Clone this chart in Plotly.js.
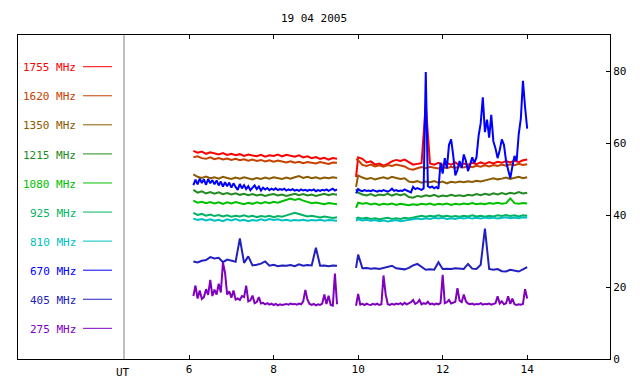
<!DOCTYPE html>
<html>
<head>
<meta charset="utf-8">
<script src="https://cdn.plot.ly/plotly-3.0.1.min.js"></script>
<style>html,body{margin:0;padding:0;background:#fff;}#chart{width:640px;height:384px;}</style>
</head>
<body>
<div id="chart"></div>
<script>
// ---- time axis (UT hours); 9.75 is the data gap ----
const hoursCoarse = [
  6.1,6.2,6.3,6.4,6.5,6.6,6.7,6.8,6.9,7.0,
  7.1,7.2,7.3,7.4,7.5,7.6,7.7,7.8,7.9,8.0,
  8.1,8.2,8.3,8.4,8.5,8.6,8.7,8.8,8.9,9.0,
  9.1,9.2,9.3,9.4,9.5,
  9.75,
  9.95,10.0,10.1,10.2,10.3,10.4,10.5,10.6,10.7,10.8,
  10.9,11.0,11.1,11.2,11.3,11.4,11.5,11.6,11.7,11.8,
  11.9,12.0,12.1,12.2,12.3,12.4,12.5,12.6,12.7,12.8,
  12.9,13.0,13.1,13.2,13.3,13.4,13.5,13.6,13.7,13.8,
  13.9,14.0
];
const hoursFine = [
  6.1,6.15,6.2,6.25,6.3,6.35,6.4,6.45,6.5,6.55,
  6.6,6.65,6.7,6.75,6.8,6.85,6.9,6.95,7.0,7.05,
  7.1,7.15,7.2,7.25,7.3,7.35,7.4,7.45,7.5,7.55,
  7.6,7.65,7.7,7.75,7.8,7.85,7.9,7.95,8.0,8.05,
  8.1,8.15,8.2,8.25,8.3,8.35,8.4,8.45,8.5,8.55,
  8.6,8.65,8.7,8.75,8.8,8.85,8.9,8.95,9.0,9.05,
  9.1,9.15,9.2,9.25,9.3,9.35,9.4,9.45,9.5,
  9.75,
  9.95,10.0,10.05,10.1,10.15,10.2,10.25,10.3,10.35,10.4,
  10.45,10.5,10.55,10.6,10.65,10.7,10.75,10.8,10.85,10.9,
  10.95,11.0,11.05,11.1,11.15,11.2,11.25,11.3,11.35,11.4,
  11.45,11.5,11.55,11.6,11.65,11.7,11.75,11.8,11.85,11.9,
  11.95,12.0,12.05,12.1,12.15,12.2,12.25,12.3,12.35,12.4,
  12.45,12.5,12.55,12.6,12.65,12.7,12.75,12.8,12.85,12.9,
  12.95,13.0,13.05,13.1,13.15,13.2,13.25,13.3,13.35,13.4,
  13.45,13.5,13.55,13.6,13.65,13.7,13.75,13.8,13.85,13.9,
  13.95,14.0
];

// ---- flux series ----
const flux1755 = [
  57.8,57.3,57.6,57.0,57.4,57.1,56.8,57.2,56.7,57.0,
  56.6,56.9,56.4,56.8,56.5,56.3,56.7,56.2,56.6,56.4,
  56.8,56.3,56.7,56.5,56.2,56.6,56.0,56.3,55.8,56.1,
  55.6,55.9,55.4,55.8,55.6,
  null,
  50.5,56.0,55.6,54.6,54.9,54.0,54.3,53.7,54.2,54.9,
  55.3,55.0,55.4,54.6,54.0,54.2,54.4,70.7,54.3,54.0,
  54.5,53.9,54.4,54.0,54.6,53.8,54.3,53.9,54.5,54.1,
  54.6,54.2,54.7,54.3,54.8,54.5,55.0,54.6,55.1,54.7,
  55.2,55.4
];
const flux1620 = [
  56.0,56.3,55.8,55.6,56.0,55.5,55.8,55.4,55.7,55.3,
  55.6,55.2,55.5,55.1,55.4,55.0,55.3,54.9,55.2,54.8,
  55.1,54.9,54.6,54.9,54.5,54.8,54.4,54.7,54.5,54.3,
  54.7,54.4,54.2,54.6,54.5,
  null,
  55.5,55.2,53.9,53.6,54.0,53.5,53.8,53.4,53.9,53.6,
  54.0,53.7,53.5,52.8,52.6,53.0,53.3,53.0,53.4,53.1,
  52.9,53.3,53.0,53.4,53.1,53.5,53.2,53.6,53.3,53.7,
  53.4,53.8,53.5,53.9,53.6,54.0,53.7,54.1,53.8,54.2,
  53.9,54.1
];
const flux1350 = [
  51.3,50.6,50.3,50.7,50.2,50.5,50.1,50.6,50.3,50.0,
  50.4,50.1,50.5,50.2,49.9,50.3,50.0,50.4,50.1,50.5,
  50.2,50.0,50.4,50.1,50.5,50.8,50.3,50.6,50.2,50.5,
  50.1,50.4,50.2,50.5,50.3,
  null,
  47.8,51.0,50.4,50.0,50.3,49.9,50.2,50.5,50.1,50.6,
  50.3,50.0,50.2,49.3,49.1,49.4,49.0,49.3,49.1,49.4,
  49.0,49.3,48.8,49.2,49.0,49.3,49.1,49.4,49.2,49.5,
  49.3,49.7,49.9,50.2,49.9,50.1,50.4,50.0,50.3,50.6,
  50.2,50.5
];
const flux1215 = [
  47.0,46.2,46.6,46.0,46.4,45.9,46.3,45.8,46.1,45.7,
  46.0,45.6,45.9,45.5,45.8,45.4,45.7,45.3,45.6,45.8,
  45.4,45.7,45.3,45.6,45.9,45.5,45.8,45.4,45.7,45.3,
  45.6,45.9,45.5,45.8,45.6,
  null,
  47.2,46.2,45.7,45.4,45.8,45.3,45.7,45.5,45.9,45.4,
  45.8,45.5,45.8,45.0,44.8,45.3,45.1,45.5,45.2,45.6,
  45.1,45.4,45.2,45.6,45.3,45.5,45.2,45.6,45.4,45.8,
  45.5,45.9,45.6,46.0,45.7,46.1,45.8,46.2,45.9,46.4,
  46.0,46.2
];
const flux1080 = [
  44.0,43.4,43.7,43.3,43.6,43.2,43.5,43.1,43.5,43.2,
  43.6,43.3,43.0,43.4,43.1,43.5,43.2,43.6,43.3,43.7,
  43.4,43.8,44.3,44.6,44.2,44.5,44.0,43.6,43.3,43.5,
  43.2,43.0,43.3,43.1,43.0,
  null,
  42.0,43.4,43.1,43.3,42.9,43.2,42.8,43.1,42.9,43.2,
  42.8,43.1,42.9,42.7,43.0,42.8,43.1,42.9,43.2,42.8,
  43.1,42.9,43.2,42.8,43.1,42.9,43.2,43.0,43.3,43.0,
  43.2,43.0,43.3,43.1,43.4,43.1,43.3,44.6,43.3,43.1,
  43.3,43.2
];
const flux925 = [
  40.6,40.0,40.3,39.8,40.1,39.7,40.0,39.6,39.9,39.5,
  39.8,39.6,39.9,39.5,39.8,39.4,39.7,39.5,39.8,39.4,
  39.7,39.5,39.9,40.2,40.6,40.3,39.9,39.6,39.8,39.5,
  39.3,39.6,39.4,39.2,39.4,
  null,
  39.0,39.3,39.0,39.2,38.9,39.1,38.8,39.0,39.2,38.9,
  39.1,38.9,39.2,39.0,39.3,39.5,39.8,39.5,39.8,39.6,
  39.9,39.6,39.8,39.5,39.7,39.5,39.8,39.6,39.9,39.6,
  39.8,39.5,39.8,39.6,39.9,39.7,40.0,39.7,39.9,39.6,
  39.9,39.8
];
const flux810 = [
  39.0,38.6,38.9,38.5,38.8,38.4,38.7,38.3,38.8,38.5,
  38.9,38.4,38.7,38.3,38.6,38.4,38.8,38.5,38.9,38.6,
  38.8,38.5,38.7,38.4,38.6,38.5,38.7,38.4,38.6,38.5,
  38.7,38.4,38.6,38.5,38.4,
  null,
  38.4,38.8,38.5,38.7,38.4,38.6,38.3,38.5,38.2,38.4,
  38.6,38.3,38.5,38.7,38.9,39.0,38.8,39.1,38.9,39.2,
  39.0,39.2,38.9,39.1,38.9,39.2,39.0,39.3,39.0,39.2,
  39.0,39.3,39.1,39.3,39.0,39.2,39.4,39.1,39.3,39.1,
  39.4,39.3
];
const flux670 = [
  48.3,49.8,48.5,50.1,48.9,49.9,48.4,50.0,48.8,49.7,
  48.5,49.6,48.2,49.3,47.9,49.1,48.0,49.0,47.6,48.8,
  47.8,47.0,48.6,47.4,48.3,47.2,48.0,46.9,47.6,48.2,
  47.2,47.9,46.8,47.6,47.1,47.5,46.9,47.3,47.0,47.4,
  46.9,47.2,47.0,47.3,46.8,47.1,46.9,47.2,46.8,47.0,
  46.7,47.1,46.8,47.0,46.7,47.0,46.8,47.1,46.6,46.9,
  46.7,47.0,46.8,47.1,46.7,47.0,47.3,46.8,47.1,
  null,
  46.0,47.2,46.8,46.6,46.9,46.7,46.8,46.6,46.9,46.7,
  46.5,46.8,46.6,46.9,46.7,46.5,46.8,47.3,46.7,46.9,
  46.6,46.8,46.7,47.1,46.8,46.6,46.3,47.8,47.2,47.5,
  47.3,47.0,47.4,79.7,48.0,47.6,47.9,47.4,47.8,47.3,
  54.5,51.5,55.8,53.0,59.5,61.0,56.5,51.0,52.5,55.0,
  53.0,56.8,55.0,52.2,54.0,56.0,54.5,56.0,62.0,65.5,
  72.7,63.0,66.5,61.5,67.8,60.5,58.5,55.8,58.0,61.0,
  59.5,55.0,52.5,50.2,53.5,56.4,55.0,62.5,66.8,77.3,
  70.0,64.0
];
const flux405 = [
  27.1,26.8,27.3,27.5,28.3,27.9,28.1,26.9,27.6,27.3,
  27.0,33.5,26.7,28.5,26.0,26.2,26.5,27.1,25.9,26.2,
  25.8,26.0,25.9,26.1,25.8,26.3,25.9,26.1,26.0,30.9,
  25.9,26.0,25.8,26.0,25.9,
  null,
  25.3,29.0,25.2,25.3,25.1,25.2,25.0,25.3,25.5,25.9,
  25.2,25.0,24.9,25.3,26.0,26.4,25.7,24.8,24.9,24.8,
  26.9,25.0,25.1,25.0,25.2,25.1,25.0,26.4,25.1,25.0,
  26.2,36.2,25.0,24.8,25.0,24.4,24.3,24.8,24.6,24.3,
  24.9,25.5
];
const flux275 = [
  17.5,20.4,16.8,19.0,16.7,17.2,19.4,17.8,22.0,17.5,
  19.3,17.9,20.9,18.5,26.8,23.9,17.9,18.8,17.0,19.0,
  16.5,16.8,16.4,17.5,17.2,20.4,16.0,16.3,17.6,15.5,
  15.8,17.2,15.4,15.6,15.2,15.5,15.1,15.4,15.0,15.3,
  14.9,15.2,15.0,15.2,15.3,15.1,15.4,15.2,15.3,15.1,
  15.4,15.2,16.0,19.2,16.5,15.3,15.0,15.3,14.9,15.2,
  15.0,15.4,17.9,15.3,17.6,15.0,14.8,23.7,15.2,
  null,
  14.8,18.1,15.1,15.3,15.0,15.4,15.1,15.0,15.3,15.1,
  15.4,15.0,15.2,23.2,18.0,15.2,15.0,15.3,15.1,15.4,
  15.2,15.5,15.1,15.6,15.2,15.4,15.8,16.4,15.3,15.6,
  16.4,15.2,15.5,15.3,15.9,15.2,15.4,15.1,15.4,15.2,
  15.6,23.4,15.5,15.8,16.4,15.4,15.7,15.9,19.7,16.2,
  15.8,17.9,16.0,15.4,15.2,15.4,15.1,15.3,15.2,15.5,
  15.1,15.3,15.2,15.4,15.1,15.3,15.5,17.4,15.4,16.0,
  15.2,15.5,17.4,15.3,16.8,15.2,15.0,15.2,15.1,15.3,
  19.4,16.8
];

const bandLabels = ['1755 MHz','1620 MHz','1350 MHz','1215 MHz','1080 MHz',
                    '925 MHz','810 MHz','670 MHz','405 MHz','275 MHz'];
const bandValues = [flux1755, flux1620, flux1350, flux1215, flux1080,
                    flux925, flux810, flux670, flux405, flux275];
const bandHours = [hoursCoarse, hoursCoarse, hoursCoarse, hoursCoarse, hoursCoarse,
                   hoursCoarse, hoursCoarse, hoursFine, hoursCoarse, hoursFine];
const bandColors = ['#ff0000','#c84000','#8c5a00','#228b22','#00c000',
                    '#00b464','#00c0c0','#0000ff','#2020c0','#8000c0'];
const yTicks = [0, 20, 40, 60, 80];
const xTicks = [6, 8, 10, 12, 14];

const FONT = 'DejaVu Sans Mono, Liberation Mono, monospace';

const traces = bandLabels.map((name, i) => ({
  type: 'scatter', mode: 'lines', name: name,
  x: bandHours[i], y: bandValues[i],
  connectgaps: false,
  line: {color: bandColors[i], width: 2},
  hoverinfo: 'skip'
}));

// layout geometry (pixels of the 640x384 page)
const plotL = 18, plotR = 610, plotT = 35, plotB = 359;
const px2paperX = p => (p - plotL) / (plotR - plotL);
const py2paperY = p => (plotB - p) / (plotB - plotT);

const shapes = [{
  type: 'line', xref: 'paper', yref: 'paper',
  x0: px2paperX(124), x1: px2paperX(124), y0: 0, y1: 1,
  line: {color: '#808080', width: 1}
}];
const annotations = [{
  xref: 'paper', yref: 'paper', x: px2paperX(123), y: py2paperY(372),
  text: 'UT', showarrow: false, xanchor: 'center', yanchor: 'middle',
  font: {family: FONT, size: 11, color: '#000'}
}];
bandLabels.forEach((name, i) => {
  const yy = py2paperY(66.7 + 29.07 * i);
  shapes.push({
    type: 'line', xref: 'paper', yref: 'paper',
    x0: px2paperX(83), x1: px2paperX(112), y0: yy, y1: yy,
    line: {color: bandColors[i], width: 1}
  });
  annotations.push({
    xref: 'paper', yref: 'paper', x: px2paperX(78), y: py2paperY(67.8 + 29.07 * i),
    text: name, showarrow: false, xanchor: 'right', yanchor: 'middle',
    font: {family: FONT, size: 11, color: bandColors[i]}
  });
});

const layout = {
  width: 640, height: 384,
  margin: {l: plotL, r: 640 - plotR, t: plotT, b: 384 - plotB, pad: 0},
  paper_bgcolor: '#ffffff', plot_bgcolor: '#ffffff',
  showlegend: false,
  title: {
    text: '19 04 2005', xref: 'paper', x: 0.5, xanchor: 'center',
    yref: 'container', y: 1 - 18 / 384, yanchor: 'middle',
    font: {family: FONT, size: 11, color: '#000'}
  },
  xaxis: {
    range: [1.95, 15.96], tickvals: xTicks, ticktext: xTicks.map(String),
    ticks: 'inside', ticklen: 4, tickwidth: 1, tickcolor: '#000',
    showline: true, linecolor: '#000', linewidth: 1, mirror: 'ticks',
    showgrid: false, zeroline: false,
    tickfont: {family: FONT, size: 11, color: '#000'}
  },
  yaxis: {
    range: [0, 90], side: 'right', tickvals: yTicks, ticktext: yTicks.map(String),
    ticks: 'inside', ticklen: 4, tickwidth: 1, tickcolor: '#000',
    showline: true, linecolor: '#000', linewidth: 1, mirror: true,
    showgrid: false, zeroline: false,
    tickfont: {family: FONT, size: 11, color: '#000'}
  },
  shapes: shapes,
  annotations: annotations
};

Plotly.newPlot('chart', traces, layout, {staticPlot: true, displayModeBar: false});
</script>
</body>
</html>
